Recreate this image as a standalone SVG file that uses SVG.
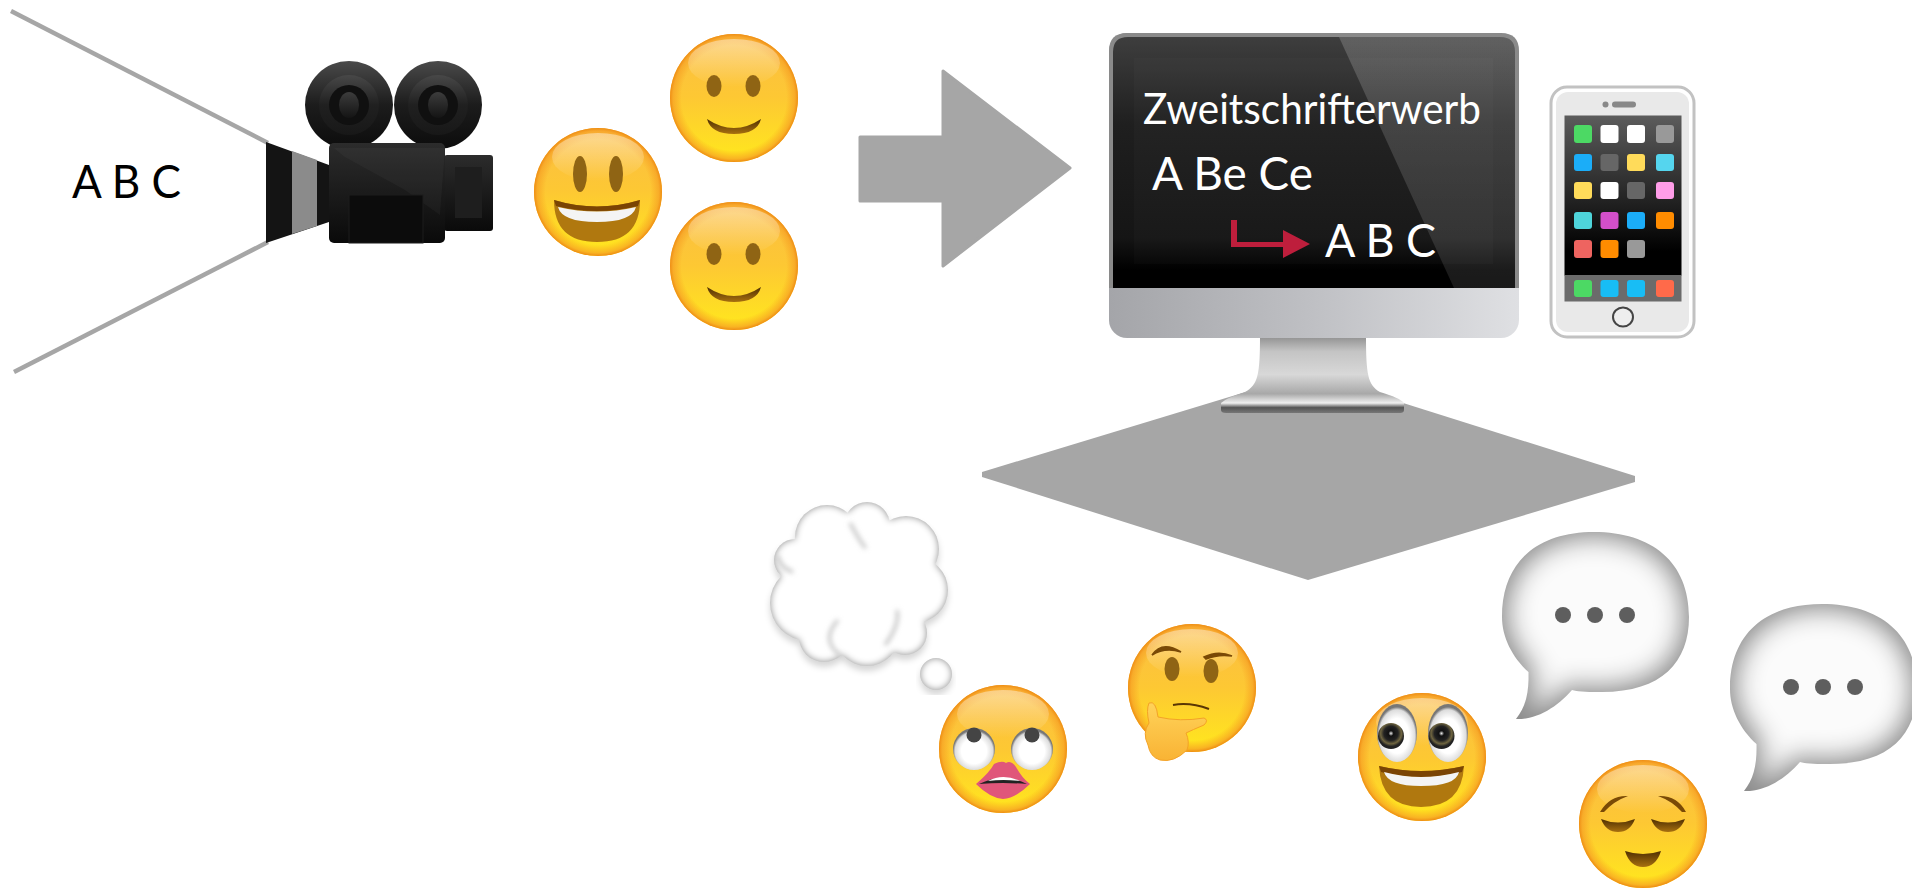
<svg xmlns="http://www.w3.org/2000/svg" width="1912" height="889" viewBox="0 0 1912 889">
<style>
text{font-family:"Lato","Carlito","Liberation Sans",sans-serif}
.w{fill:#fff}
.g{fill:#a6a6a6}
.br{fill:#8f6414}
.ln{stroke:#a6a6a6;stroke-width:4.500;fill:none}
.c{fill:#fff}
.ic{rx:3px}
.fold{fill:none;stroke:#bdbdbd;stroke-width:3;filter:url(#fine)}
</style>
<defs>
<linearGradient id="fy" x1="0" y1="0" x2="0" y2="1"><stop offset="0" stop-color="#fbbd45"/><stop offset=".5" stop-color="#fdc833"/><stop offset=".92" stop-color="#ffe320"/></linearGradient>
<radialGradient id="rim"><stop offset=".82" stop-color="#f8a020" stop-opacity="0"/><stop offset=".95" stop-color="#f6a024" stop-opacity=".7"/><stop offset="1" stop-color="#ee8c14"/></radialGradient>
<linearGradient id="hi" x1="0" y1="0" x2="0" y2="1"><stop offset="0" stop-color="#fff" stop-opacity=".42"/><stop offset="1" stop-color="#fff" stop-opacity="0"/></linearGradient>
<linearGradient id="mth" x1="0" y1="0" x2="0" y2="1"><stop offset="0" stop-color="#4f2f02"/><stop offset="1" stop-color="#a8700f"/></linearGradient>
<linearGradient id="scr" x1="0" y1="0" x2="0" y2="1"><stop offset="0" stop-color="#3e3e3e"/><stop offset=".35" stop-color="#1f1f1f"/><stop offset=".8" stop-color="#151515"/><stop offset=".93" stop-color="#000"/></linearGradient>
<linearGradient id="gloss" x1="0" y1="0" x2="0" y2="1"><stop offset="0" stop-color="#fff" stop-opacity=".18"/><stop offset="1" stop-color="#fff" stop-opacity=".1"/></linearGradient>
<linearGradient id="chin" x1="0" y1="0" x2="1" y2="0"><stop offset="0" stop-color="#a4a5a9"/><stop offset=".5" stop-color="#bfc0c4"/><stop offset="1" stop-color="#dfe0e3"/></linearGradient>
<linearGradient id="stand" x1="0" y1="0" x2="0" y2="1"><stop offset="0" stop-color="#8f8f8f"/><stop offset=".2" stop-color="#c4c4c4"/><stop offset=".5" stop-color="#d8d8d8"/><stop offset=".75" stop-color="#a8a8a8"/><stop offset=".87" stop-color="#f0f0f0"/><stop offset=".93" stop-color="#555"/><stop offset="1" stop-color="#777"/></linearGradient>
<linearGradient id="phs" x1="0" y1="0" x2="0" y2="1"><stop offset="0" stop-color="#5c5c5c"/><stop offset=".85" stop-color="#000"/></linearGradient>
<linearGradient id="reel" x1="0" y1="0" x2="0" y2="1"><stop offset="0" stop-color="#4a4a4a"/><stop offset=".5" stop-color="#1c1c1c"/><stop offset="1" stop-color="#0c0c0c"/></linearGradient>
<linearGradient id="ring" x1="0" y1="0" x2="0" y2="1"><stop offset="0" stop-color="#484848"/><stop offset=".5" stop-color="#202020"/><stop offset="1" stop-color="#181818"/></linearGradient>
<linearGradient id="lens" x1="0" y1="0" x2="0" y2="1"><stop offset="0" stop-color="#3c3c3c"/><stop offset="1" stop-color="#141414"/></linearGradient>
<linearGradient id="body" x1="0" y1="0" x2="0" y2="1"><stop offset="0" stop-color="#2c2c2c"/><stop offset="1" stop-color="#0a0a0a"/></linearGradient>
<radialGradient id="eyew" cy=".55"><stop offset=".6" stop-color="#fff"/><stop offset=".9" stop-color="#ddd"/><stop offset="1" stop-color="#777"/></radialGradient>
<radialGradient id="iris" cy=".4"><stop offset="0" stop-color="#eee"/><stop offset=".2" stop-color="#111"/><stop offset=".55" stop-color="#222"/><stop offset=".8" stop-color="#6f6540"/><stop offset="1" stop-color="#222"/></radialGradient>
<linearGradient id="hand" x1="0" y1="0" x2="0" y2="1"><stop offset="0" stop-color="#ffd35a"/><stop offset="1" stop-color="#f9b334"/></linearGradient>
<filter id="fine" x="-20%" y="-20%" width="140%" height="140%"><feGaussianBlur stdDeviation="2.500"/></filter>
<filter id="inner" x="-5%" y="-5%" width="110%" height="110%" color-interpolation-filters="sRGB">
<feMorphology in="SourceAlpha" operator="erode" radius="5" result="e"/>
<feGaussianBlur in="e" stdDeviation="13" result="b"/>
<feFlood flood-color="#fbfbfb"/><feComposite in2="b" operator="in" result="w"/>
<feFlood flood-color="#8a8a8a" result="d"/><feComposite in="w" in2="d" operator="over" result="m"/>
<feComposite in="m" in2="SourceAlpha" operator="in"/>
</filter>
<filter id="cloud" x="-10%" y="-10%" width="120%" height="125%" color-interpolation-filters="sRGB">
<feGaussianBlur in="SourceAlpha" stdDeviation="3.500" result="b"/>
<feFlood flood-color="#fff"/><feComposite in2="b" operator="in" result="w"/>
<feFlood flood-color="#8f8f8f" result="d"/><feComposite in="w" in2="d" operator="over" result="m"/>
<feComposite in="m" in2="SourceAlpha" operator="in" result="body"/>
<feGaussianBlur in="SourceAlpha" stdDeviation="3" result="sb"/>
<feOffset in="sb" dy="5" result="so"/>
<feFlood flood-color="#000" flood-opacity=".16"/><feComposite in2="so" operator="in" result="s"/>
<feMerge><feMergeNode in="s"/><feMergeNode in="body"/></feMerge>
</filter>
<g id="face">
<circle r="64" fill="url(#fy)"/>
<circle r="64" fill="url(#rim)"/>
<ellipse cy="-35" rx="46" ry="24" fill="url(#hi)"/>
</g>
<g id="smile">
<use href="#face"/>
<ellipse cx="-20" cy="-12" rx="7.500" ry="11" class="br"/><ellipse cx="19" cy="-12" rx="7.500" ry="11" class="br"/>
<path d="M-27 21Q0 39 27 21Q23 36 0 36Q-23 36-27 21Z" fill="url(#mth)"/>
</g>
<g id="bubble">
<path filter="url(#inner)" fill="#000" d="M14 187C24 175 27 160 26.500 140C10 125 0 105 0 85C0 30 35 0 92 0C150 0 187 30 187 85C187 130 160 160 100 160C88 160 78 160 70 158C55 175 35 188 14 187Z"/>
<circle cx="61" cy="83" r="8" fill="#5e5e5e"/><circle cx="93" cy="83" r="8" fill="#5e5e5e"/><circle cx="125" cy="83" r="8" fill="#5e5e5e"/>
</g>
</defs>

<g id="connectors">
<path class="ln" d="M11 11L268 143"/>
<path class="ln" d="M14 372L268 242"/>
<path id="big-arrow" class="g" stroke="#a6a6a6" stroke-width="3" stroke-linejoin="round" d="M860 137H943V71L1070 168L943 266V201H860Z"/>
<polygon id="floor" class="g" points="982,472 1308,373 1635,476 1635,482 1308,580 982,477"/>
</g>

<text id="label-abc" x="72" y="198" font-size="47" textLength="109" lengthAdjust="spacingAndGlyphs">A B C</text>

<g id="camera">
<g id="reel-left"><circle cx="349" cy="105" r="44" fill="url(#reel)"/><circle cx="349" cy="105" r="30" fill="url(#ring)"/><circle cx="349" cy="105" r="20" fill="#101010"/><ellipse cx="349" cy="105" rx="10" ry="13" fill="url(#lens)"/></g>
<g id="reel-right"><circle cx="438" cy="105" r="44" fill="url(#reel)"/><circle cx="438" cy="105" r="30" fill="url(#ring)"/><circle cx="438" cy="105" r="20" fill="#101010"/><ellipse cx="438" cy="105" rx="10" ry="13" fill="url(#lens)"/></g>
<polygon points="266,142 329,165 329,222 266,243" fill="#141414"/>
<polygon points="292,151 317,160 317,226 292,234" fill="#8b8b8b"/>
<rect x="444" y="155" width="49" height="76" rx="3" fill="url(#body)"/><rect x="455" y="167" width="27" height="51" fill="#1e1e1e"/>
<rect x="329" y="143" width="116" height="100" rx="5" fill="url(#body)"/>
<polygon points="345,157 405,190 440,215 445,148 334,148" fill="#fff" opacity=".03"/>
<rect x="349" y="195" width="74" height="48" fill="#0c0c0c" stroke="#1c1c1c"/>
</g>

<g id="smile-top"><use href="#smile" x="734" y="98"/></g>
<g id="smile-bottom"><use href="#smile" x="734" y="266"/></g>
<g id="laugh">
<use href="#face" x="598" y="192"/>
<ellipse cx="580" cy="174" rx="7" ry="18" class="br"/><ellipse cx="616" cy="174" rx="7" ry="18" class="br"/>
<path d="M554 200Q597 213 640 200Q640 242 597 242Q554 242 554 200Z" fill="#b0780f"/>
<path d="M554 200Q597 213 640 200L638 206Q597 216 556 206Z" fill="#7a4404"/>
<path d="M558 207Q597 216 636 207Q632 222 597 222Q562 222 558 207Z" fill="#f4f4f4"/>
</g>

<g id="monitor">
<path d="M1260 336H1366C1366 375 1368 385 1380 392Q1400 398 1404 403V410Q1404 413 1400 413H1226Q1221 413 1221 410V403Q1226 398 1245 392C1258 385 1260 375 1260 336Z" fill="url(#stand)"/>
<rect x="1109" y="33" width="410" height="305" rx="18" fill="url(#chin)"/>
<path d="M1109 288V51Q1109 33 1127 33H1501Q1519 33 1519 51V288Z" fill="#8a8a8a"/>
<path d="M1113 288V52Q1113 37 1128 37H1500Q1515 37 1515 52V288Z" fill="url(#scr)"/>
<path d="M1339 37H1500Q1515 37 1515 52V288H1454Z" fill="url(#gloss)"/>
<rect x="1134" y="58" width="359" height="206" fill="#fff" opacity=".02"/>
<text class="w" x="1143" y="124" font-size="42" textLength="338" lengthAdjust="spacingAndGlyphs">Zweitschrifterwerb</text>
<text class="w" x="1152" y="190" font-size="47" textLength="161" lengthAdjust="spacingAndGlyphs">A Be Ce</text>
<text class="w" x="1325" y="257" font-size="47" textLength="111" lengthAdjust="spacingAndGlyphs">A B C</text>
<path d="M1231 220H1237V242H1283V230L1310 244L1283 258V247H1231Z" fill="#be1e3c"/>
</g>

<g id="phone">
<rect x="1551" y="87" width="143" height="250" rx="16" fill="#fff" stroke="#c2c2c2" stroke-width="3"/>
<rect x="1556" y="92" width="133" height="240" rx="12" fill="#e9e9e9"/>
<rect x="1564.500" y="115.500" width="117" height="160" fill="url(#phs)"/>
<rect x="1564.500" y="275" width="117" height="26.500" fill="#6b6b6b"/>
<circle cx="1605.500" cy="104.500" r="3" fill="#888"/><rect x="1612" y="101.500" width="24" height="6" rx="3" fill="#888"/>
<ellipse cx="1623" cy="317" rx="10" ry="9.500" fill="#eee" stroke="#444" stroke-width="2"/>
<g>
<rect class="ic" x="1574" y="125" width="18" height="18" fill="#4cd964"/><rect class="ic" x="1600.500" y="125" width="18" height="18" fill="#fff"/><rect class="ic" x="1627" y="125" width="18" height="18" fill="#fff"/><rect class="ic" x="1656" y="125" width="18" height="18" fill="#999"/>
<rect class="ic" x="1574" y="154" width="18" height="17" fill="#1badf8"/><rect class="ic" x="1600.500" y="154" width="18" height="17" fill="#666"/><rect class="ic" x="1627" y="154" width="18" height="17" fill="#ffdb5a"/><rect class="ic" x="1656" y="154" width="18" height="17" fill="#55d5ee"/>
<rect class="ic" x="1574" y="182" width="18" height="17" fill="#ffdb5a"/><rect class="ic" x="1600.500" y="182" width="18" height="17" fill="#fff"/><rect class="ic" x="1627" y="182" width="18" height="17" fill="#666"/><rect class="ic" x="1656" y="182" width="18" height="17" fill="#ff9de8"/>
<rect class="ic" x="1574" y="212" width="18" height="17" fill="#4ed4da"/><rect class="ic" x="1600.500" y="212" width="18" height="17" fill="#d44fca"/><rect class="ic" x="1627" y="212" width="18" height="17" fill="#1badf8"/><rect class="ic" x="1656" y="212" width="18" height="17" fill="#ff8c00"/>
<rect class="ic" x="1574" y="240" width="18" height="18" fill="#ee6460"/><rect class="ic" x="1600.500" y="240" width="18" height="18" fill="#ff8c00"/><rect class="ic" x="1627" y="240" width="18" height="18" fill="#999"/>
<rect class="ic" x="1574" y="280" width="18" height="17" fill="#4cd964"/><rect class="ic" x="1600.500" y="280" width="18" height="17" fill="#18bdf5"/><rect class="ic" x="1627" y="280" width="18" height="17" fill="#18bdf5"/><rect class="ic" x="1656" y="280" width="18" height="17" fill="#ff6a4a"/>
</g>
</g>

<g id="thought-cloud">
<g filter="url(#cloud)">
<circle class="c" cx="827" cy="537" r="32"/><circle class="c" cx="867" cy="525" r="23"/><circle class="c" cx="906" cy="549" r="33"/><circle class="c" cx="795" cy="560" r="21"/>
<circle class="c" cx="808" cy="603" r="38"/><circle class="c" cx="824" cy="637" r="25"/><circle class="c" cx="867" cy="633" r="33"/><circle class="c" cx="905" cy="633" r="22"/><circle class="c" cx="915" cy="590" r="33"/>
<circle class="c" cx="855" cy="585" r="50"/>
</g>
<path class="fold" d="M793 572Q780 568 778 556M850 523Q862 545 866 548M885 645Q900 625 897 610M840 655Q820 640 838 620"/>
<g filter="url(#cloud)"><circle class="c" cx="936" cy="674" r="16"/></g>
</g>

<g id="rolling-eyes">
<use href="#face" x="1003" y="749"/>
<circle cx="974" cy="749" r="21" fill="url(#eyew)"/><circle cx="1032" cy="749" r="21" fill="url(#eyew)"/>
<circle cx="974" cy="735" r="7.500" fill="#444"/><circle cx="1032" cy="735" r="7.500" fill="#444"/>
<path d="M976 784Q990 772 994 764Q1002 760 1006 763Q1011 760 1016 767Q1022 778 1030 784Q1016 798 1003 799Q990 798 976 784Z" fill="#e0567a"/>
<path d="M979 784Q1003 772 1027 784Q1003 782 979 784Z" fill="#222"/>
<path d="M988 781Q1003 773 1020 781Q1003 779 988 781Z" fill="#fff"/>
</g>

<g id="thinking">
<use href="#face" x="1192" y="688"/>
<path d="M1152 655Q1162 640 1181 652Q1165 647 1152 655ZM1204 657Q1218 650 1232 656Q1218 654 1206 659Z" fill="#7a4a06" stroke="#7a4a06" stroke-width="1.500"/>
<ellipse cx="1172" cy="669" rx="7.500" ry="12" class="br"/><ellipse cx="1211" cy="671" rx="7.500" ry="12" class="br"/>
<path d="M1173 705Q1190 702 1209 709" fill="none" stroke="#5a3604" stroke-width="2"/>
<path d="M1149 703Q1156 700 1158 717Q1180 722 1204 718Q1209 720 1204 725Q1192 730 1186 733Q1190 742 1187 750Q1174 763 1160 760Q1150 757 1148 745Q1142 733 1149 723Q1146 710 1149 703Z" fill="url(#hand)" stroke="#f4a226"/>
</g>

<g id="bubble-one"><use href="#bubble" x="1502" y="532"/></g>
<g id="bubble-two"><use href="#bubble" x="1730" y="604"/></g>

<g id="wide-eyes">
<use href="#face" x="1422" y="757"/>
<ellipse cx="1397" cy="733" rx="20" ry="29" fill="url(#eyew)"/><ellipse cx="1448" cy="733" rx="20" ry="29" fill="url(#eyew)"/>
<circle cx="1391" cy="736" r="13" fill="url(#iris)"/><circle cx="1441.500" cy="736" r="13" fill="url(#iris)"/>
<path d="M1379 766Q1421 776 1464 766Q1462 807 1421 807Q1381 807 1379 766Z" fill="#b0780f"/>
<path d="M1379 766Q1421 776 1464 766L1462 772Q1421 782 1381 772Z" fill="#7a4404"/>
<path d="M1384 772Q1421 782 1459 772Q1456 786 1421 786Q1388 786 1384 772Z" fill="#f4f4f4"/>
</g>

<g id="relieved">
<use href="#face" x="1643" y="824"/>
<path d="M1600 812Q1610 795 1628 796Q1614 801 1604 812Z" fill="#7a4a06"/>
<path d="M1686 812Q1677 795 1658 796Q1672 801 1682 812Z" fill="#7a4a06"/>
<path d="M1601 819Q1618 826 1635 819Q1630 832 1618 832Q1606 832 1601 819Z" fill="url(#mth)"/>
<path d="M1651 819Q1668 826 1685 819Q1680 832 1668 832Q1656 832 1651 819Z" fill="url(#mth)"/>
<path d="M1625 851Q1643 857 1661 851Q1656 867 1643 867Q1630 867 1625 851Z" fill="url(#mth)"/>
</g>
</svg>
